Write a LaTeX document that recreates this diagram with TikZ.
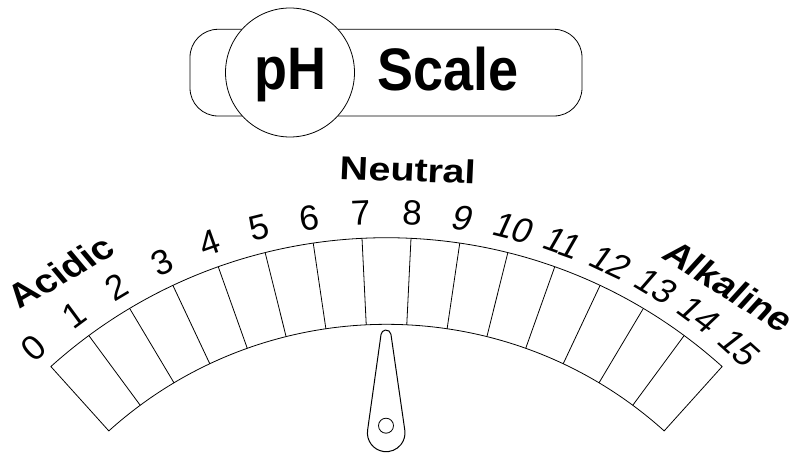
\documentclass[tikz,border=0pt]{standalone}
\usepackage{fontspec}
\setmainfont{Liberation Sans}
\begin{document}
\begin{tikzpicture}[x=1pt,y=1pt,line width=0.8pt,
  numlabel/.style={font=\fontsize{35}{40}\selectfont, inner sep=0pt},
  zonelabel/.style={font=\bfseries\fontsize{33}{38}\selectfont, inner sep=0pt, xscale=1.2},
  titletext/.style={font=\bfseries\fontsize{60}{70}\selectfont, inner sep=0pt, anchor=base, xscale=0.9},
  band/.style={line width=0.8pt},
  needle/.style={draw, fill=white, line width=1pt}]
\useasboundingbox (0,0) rectangle (796,453);
% title
\draw[rounded corners=28pt, line width=0.8pt] (190,337) rectangle (582,423.7);
\node[circle, draw, fill=white, minimum size=129pt, inner sep=0pt, line width=0.8pt] (phc) at (290,380.5) {};
\node[titletext] (ph) at (290,363) {pH};
\node[titletext] (sc) at (448,362) {Scale};
% scale band
\coordinate (C) at (386.5,-286.3);
\def\Ro{501.6}\def\Ri{415}
\draw[band] ([shift={(132:\Ro)}]C) arc[start angle=132, end angle=48, radius=\Ro]
  -- ([shift={(48:\Ri)}]C) arc[start angle=48, end angle=132, radius=\Ri] -- cycle;
\foreach \k in {1,...,14} {
  \pgfmathsetmacro\a{132-5.6*\k}
  \draw[band] ([shift={(\a:\Ri)}]C) -- ([shift={(\a:\Ro)}]C);
}
\foreach \k in {0,...,15} {
  \pgfmathsetmacro\a{132-5.6*\k}
  \pgfmathsetmacro\r{\a-90}
  \pgfmathsetmacro\sl{\k>8 ? 0.18 : 0}
  \node[numlabel, rotate=\r, xslant=\sl] (n\k) at ([shift={(\a:527)}]C) {\k};
}
\node[zonelabel, rotate=34.9] (acid) at ([shift={(124.9:570)}]C) {Acidic};
\node[zonelabel, rotate=-2.2] (neut) at ([shift={(87.8:570)}]C) {Neutral};
\node[zonelabel, rotate=-37.1] (alk) at ([shift={(52.9:568)}]C) {Alkaline};
% needle
\coordinate (T) at (386,118);
\coordinate (B) at (386.2,20.1);
\draw[needle] ([shift={(8.1:5)}]T) arc[start angle=8.1, end angle=171.9, radius=5]
  -- ([shift={(171.9:18.8)}]B) arc[start angle=171.9, end angle=368.1, radius=18.8] -- cycle;
\node[circle, draw, line width=0.8pt, minimum size=15pt, inner sep=0pt] (hole) at (386,27.3) {};
\end{tikzpicture}
\end{document}
